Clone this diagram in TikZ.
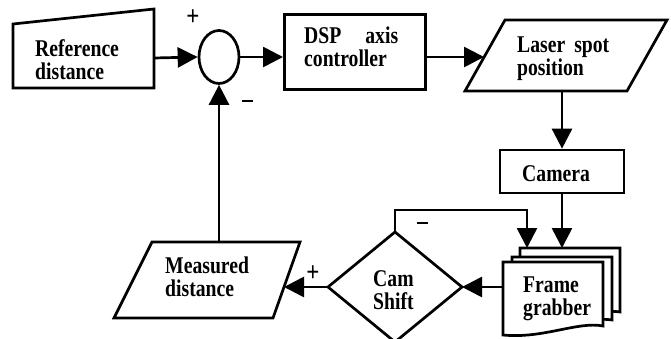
\documentclass[tikz,border=0pt]{standalone}
\usepackage{fontspec}
\setmainfont{Liberation Serif}[FakeStretch=0.82]
\usetikzlibrary{arrows.meta,shapes.geometric}
% two stacked lines of a label, baseline at the first line
\newcommand{\twoline}[2]{\vtop{\hbox{#1}\hbox{#2}}}

\begin{document}
\begin{tikzpicture}[x=1pt,y=-1pt,
  block/.style={draw, line width=2.7pt, line join=miter, fill=white},
  link/.style={line width=2.7pt},
  arr/.style={link, -{Triangle[length=20pt,width=20pt]}},
  lbl/.style={font=\bfseries\fontsize{24}{23}\selectfont, inner sep=0pt, anchor=base west},
  sign/.style={font=\bfseries\fontsize{28}{28}\selectfont, inner sep=0pt}]
\useasboundingbox (0,0) rectangle (671,339);

% Reference distance (manual input shape)
\draw[block] (13,24) -- (154,9) -- (154,88) -- (13,88) -- cycle;
\coordinate (refOut) at (154,58);
\node[lbl] (reftxt) at (35,57) {\twoline{Reference}{distance}};

% summing junction
\node[draw, line width=2.7pt, ellipse, minimum width=40pt, minimum height=53pt, inner sep=0pt] (sum) at (219,57) {};

% DSP axis controller
\node[block, rectangle, minimum width=141pt, minimum height=75pt, anchor=north west, inner sep=0pt] (dsp) at (283,13) {};
\coordinate (dspOut) at (424,57);
\node[lbl] (dsptxt) at (304,44) {\twoline{DSP\hspace{24pt}axis}{controller}};

% Laser spot position (data shape)
\draw[block] (505,20) -- (667,20) -- (627,91) -- (465,91) -- cycle;
\coordinate (laserIn) at (484,57);
\coordinate (laserOut) at (562,91);
\node[lbl] (lasertxt) at (517,53) {\twoline{Laser\hspace{9pt}spot}{position}};

% Camera
\node[block, rectangle, minimum width=124pt, minimum height=43pt, inner sep=0pt] (cam) at (562,171.5) {};
\node[lbl] (camtxt) at (522,182) {Camera};

% Frame grabber (stack of documents)
\draw[block] (520,248) -- (620,248) -- (620,312) .. controls (595,308) and (560,322) .. (520,318) -- cycle;
\draw[block] (512,257) -- (612,257) -- (612,320) .. controls (587,316) and (552,330) .. (512,326) -- cycle;
\draw[block] (503,262) -- (603,262) -- (603,326) .. controls (578,321) and (543,339) .. (503,335) -- cycle;
\coordinate (fgIn1) at (527,248);
\coordinate (fgIn2) at (562,248);
\coordinate (fgOut) at (503,287);
\node[lbl] (fgtxt) at (523,292) {\twoline{Frame}{grabber}};

% Cam Shift decision
\draw[block] (395,232) -- (462,287) -- (395,342) -- (328,287) -- cycle;
\coordinate (csTop) at (395,232);
\coordinate (csRight) at (462,287);
\coordinate (csLeft) at (328,287);
\coordinate (fbBend) at (395,210);
\node[lbl] (cstxt) at (373,286) {\twoline{Cam}{Shift}};

% Measured distance (data shape)
\draw[block] (152,242) -- (300,242) -- (273,318) -- (114,318) -- cycle;
\coordinate (measIn) at (284,287);
\coordinate (measOut) at (219,242);
\node[lbl] (meastxt) at (165,273) {\twoline{Measured}{distance}};

% connectors
\draw[arr] (refOut) -- (sum.west);
\draw[arr] (sum.east) -- (sum.east -| dsp.west);
\draw[arr] (dspOut) -- (laserIn);
\draw[arr] (laserOut) -- (cam.north);
\draw[arr] (cam.south) -- (fgIn2);
\draw[arr] (csTop) -- (fbBend) -| (fgIn1);
\draw[arr] (fgOut) -- (csRight);
\draw[arr] (csLeft) -- (measIn);
\draw[arr] (measOut) -- (sum.south);

% signs
\node[sign] (plusA) at (193,18) {+};
\node[sign] (minusA) at (247,101) {\rule{11pt}{2.4pt}};
\node[sign] (minusB) at (422,223) {\rule{11pt}{2.4pt}};
\node[sign] (plusB) at (313,274) {+};
\end{tikzpicture}
\end{document}
